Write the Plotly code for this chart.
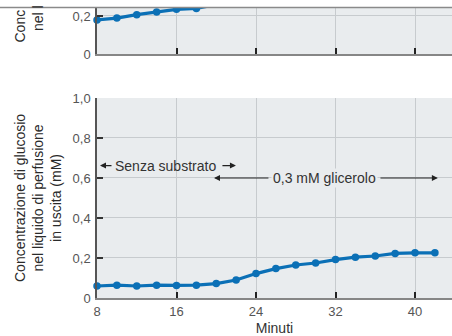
import plotly.graph_objects as go

# ---- data ----
minutes = [8, 10, 12, 14, 16, 18, 20, 22, 24, 26, 28, 30, 32, 34, 36, 38, 40, 42]
glucose = [0.060, 0.064, 0.060, 0.064, 0.063, 0.064, 0.072, 0.090, 0.122, 0.147,
           0.165, 0.175, 0.192, 0.204, 0.210, 0.223, 0.226, 0.226]

top_minutes = [8, 10, 12, 14, 16, 18, 20]
top_values = [0.179, 0.189, 0.207, 0.221, 0.235, 0.240, 0.260]

x_ticks = [8, 16, 24, 32, 40]
x_tick_labels = ["8", "16", "24", "32", "40"]
y_ticks = [0, 0.2, 0.4, 0.6, 0.8, 1.0]
y_tick_labels = ["0", "0,2", "0,4", "0,6", "0,8", "1,0"]
top_y_ticks = [0, 0.2]
top_y_tick_labels = ["0", "0,2"]

BLUE = "#0B70B6"
BG = "#E9ECEE"
GRID = "#C7CBCE"
FONT = "Liberation Sans, Arial, sans-serif"

fig = go.Figure()
fig.add_trace(go.Scatter(
    x=minutes, y=glucose, xaxis="x", yaxis="y", mode="lines+markers",
    line=dict(color=BLUE, width=3.2), marker=dict(size=7.5, color=BLUE),
    cliponaxis=False, hoverinfo="skip"))
fig.add_trace(go.Scatter(
    x=top_minutes, y=top_values, xaxis="x2", yaxis="y2", mode="lines+markers",
    line=dict(color=BLUE, width=3.2), marker=dict(size=7.5, color=BLUE),
    cliponaxis=False, hoverinfo="skip"))

XR = [8, 43.72]
common_x = dict(range=XR, ticks="inside", ticklen=6, tickwidth=1.5, tickcolor="#222",
                showline=True, linecolor="#868686", linewidth=2, showgrid=True,
                gridcolor=GRID, gridwidth=1, zeroline=False,
                tickfont=dict(family=FONT, size=13, color="#555"))
common_y = dict(ticks="inside", ticklen=6, tickwidth=1.5, tickcolor="#333",
                showline=True, linecolor="#555", linewidth=1.5, showgrid=True,
                gridcolor=GRID, gridwidth=1, zeroline=False,
                tickfont=dict(family=FONT, size=13, color="#555"))

fig.update_layout(
    width=452, height=336,
    margin=dict(l=97, r=0, t=8, b=38),
    paper_bgcolor="white", plot_bgcolor=BG, showlegend=False,
    font=dict(family=FONT, size=13, color="#333"),
    xaxis=dict(domain=[0, 1], anchor="y", tickvals=x_ticks, ticktext=x_tick_labels,
               title=dict(text="Minuti", font=dict(family=FONT, size=14, color="#333"), standoff=8),
               **common_x),
    yaxis=dict(domain=[0, 0.6897], anchor="x", range=[0, 1.0], tickvals=y_ticks,
               ticktext=y_tick_labels, **common_y),
    xaxis2=dict(domain=[0, 1], anchor="y2", tickvals=x_ticks, showticklabels=False, **common_x),
    yaxis2=dict(domain=[0.8414, 1], anchor="x2", range=[0, 0.242], tickvals=top_y_ticks,
                ticktext=top_y_tick_labels, **common_y),
)

fig.update_yaxes(ticklabelstandoff=2)
fig.update_xaxes(ticklabelstandoff=0)

# cover above the clipped top panel
fig.add_shape(type="rect", xref="paper", yref="paper", x0=-0.3, x1=1.02, y0=1.0, y1=1.05,
              fillcolor="white", line=dict(width=0), layer="above")
fig.add_shape(type="line", xref="paper", yref="paper", x0=-0.3, x1=1.02, y0=1.0017, y1=1.0017,
              line=dict(color="#8A8A8A", width=1.5), layer="above")

ann = []
# y-axis title (bottom panel)
ann.append(dict(text="Concentrazione di glucosio<br>nel liquido di perfusione<br>in uscita (mM)",
                xref="paper", yref="paper", x=-0.1662, y=0.3448, textangle=-90,
                showarrow=False, xanchor="center", yanchor="middle", align="center",
                font=dict(family=FONT, size=14, color="#2a2a2a")))
# clipped y-axis title fragments (top panel)
ann.append(dict(text="Conc", xref="paper", yref="paper", x=-0.2169, y=0.8724, textangle=-90,
                showarrow=False, xanchor="center", yanchor="bottom",
                font=dict(family=FONT, size=14, color="#2a2a2a")))
ann.append(dict(text="nel l", xref="paper", yref="paper", x=-0.1662, y=0.9138, textangle=-90,
                showarrow=False, xanchor="center", yanchor="bottom",
                font=dict(family=FONT, size=14, color="#2a2a2a")))

# "Senza substrato" with arrows
ann.append(dict(text="Senza substrato", x=14.94, y=0.662, xref="x", yref="y", showarrow=False,
                font=dict(family=FONT, size=14, color="#333")))
arrow_style = dict(text="", showarrow=True, arrowhead=2, arrowsize=1, arrowwidth=1.2,
                   arrowcolor="#222", xref="x", yref="y", axref="x", ayref="y",
                   standoff=0, startstandoff=0)
ann.append(dict(x=8.30, y=0.662, ax=9.61, ay=0.662, **arrow_style))
ann.append(dict(x=21.98, y=0.662, ax=20.47, ay=0.662, **arrow_style))
# "0,3 mM glicerolo" with arrows
ann.append(dict(text="0,3 mM glicerolo", x=30.89, y=0.60, xref="x", yref="y", showarrow=False,
                bgcolor=BG, font=dict(family=FONT, size=14, color="#333")))
ann.append(dict(x=19.77, y=0.60, ax=25.40, ay=0.60, **arrow_style))
ann.append(dict(x=42.3, y=0.60, ax=36.37, ay=0.60, **arrow_style))

fig.update_layout(annotations=ann)

fig.write_html("out.html", config={"displayModeBar": False},
               post_script="document.body.style.margin='0';document.body.style.padding='0';")
